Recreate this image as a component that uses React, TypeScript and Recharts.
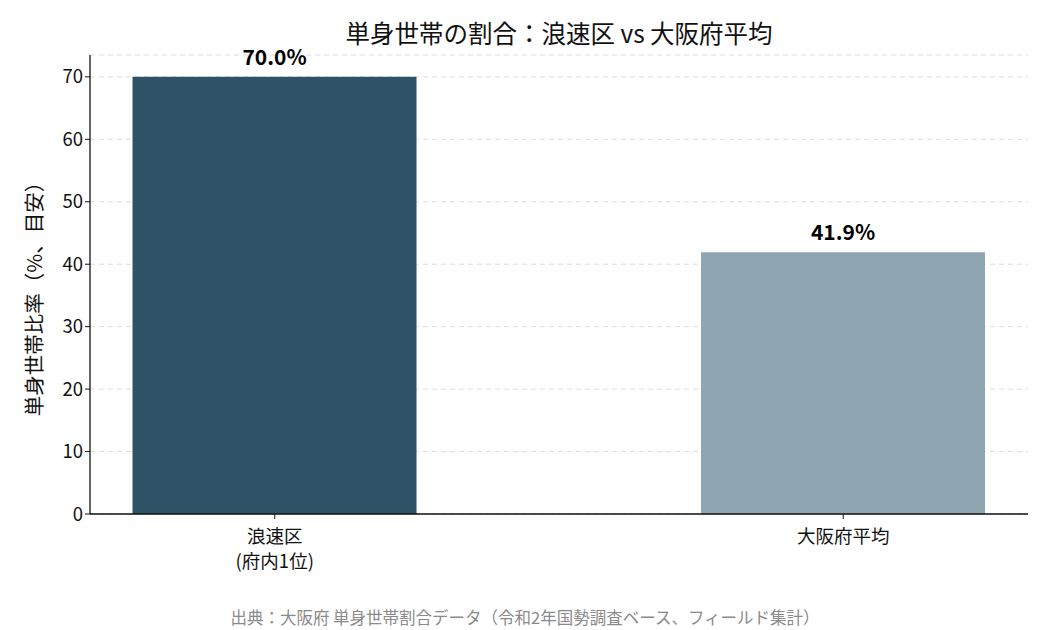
import { Bar, BarChart, CartesianGrid, Cell, LabelList, XAxis, YAxis } from 'recharts';

const CATEGORIES = ['浪速区\n(府内1位)', '大阪府平均'];
const SHARES = [70.0, 41.9];
const BAR_COLORS = ['#2e5366', '#8fa5b2'];
const Y_TICKS = [0, 10, 20, 30, 40, 50, 60, 70];

const FONT = '"Noto Sans CJK JP", "Noto Sans", sans-serif';

const data = CATEGORIES.map((name, i) => ({ x: i, name, value: SHARES[i] }));

const CategoryTick = (props: any) => {
  const { x, y, payload } = props;
  const lines = String(CATEGORIES[payload.value] ?? '').split('\n');
  return (
    <text x={x} y={y + 22} textAnchor="middle" fontSize={18.5} fill="#111" fontFamily={FONT}>
      {lines.map((line, i) => (
        <tspan key={i} x={x} dy={i === 0 ? 0 : 25}>
          {line}
        </tspan>
      ))}
    </text>
  );
};

const App = () => {
  return (
    <div
      style={{
        position: 'absolute',
        left: 0,
        top: 0,
        width: 1050,
        height: 630,
        background: '#fff',
        fontFamily: FONT,
      }}
    >
      <div
        style={{
          position: 'absolute',
          top: 15,
          left: 90,
          width: 938,
          textAlign: 'center',
          fontSize: 24.5,
          color: '#111',
        }}
      >
        単身世帯の割合：浪速区 vs 大阪府平均
      </div>
      <div
        style={{
          position: 'absolute',
          left: 33,
          top: 294,
          transform: 'translate(-50%, -50%) rotate(-90deg)',
          whiteSpace: 'nowrap',
          fontSize: 20.5,
          color: '#111',
        }}
      >
        単身世帯比率（%、目安）
      </div>
      <BarChart
        width={1050}
        height={630}
        data={data}
        margin={{ top: 55, right: 22, bottom: 86, left: 30 }}
      >
        <CartesianGrid horizontal vertical={false} stroke="#dcdcdc" strokeDasharray="5 4" />
        <XAxis
          type="number"
          dataKey="x"
          domain={[-0.325, 1.325]}
          ticks={[0, 1]}
          tick={<CategoryTick />}
          tickLine={{ stroke: '#111' }}
          axisLine={{ stroke: '#111', strokeWidth: 1.3 }}
          tickSize={5}
          height={30}
          interval={0}
        />
        <YAxis
          width={60}
          domain={[0, 73.5]}
          ticks={Y_TICKS}
          tick={{ fontSize: 18.5, fill: '#111', fontFamily: FONT }}
          tickLine={{ stroke: '#111' }}
          axisLine={{ stroke: '#111', strokeWidth: 1.3 }}
          tickSize={5}
          allowDataOverflow
        />
        <Bar dataKey="value" barSize={284} isAnimationActive={false}>
          {data.map((_, i) => (
            <Cell key={i} fill={BAR_COLORS[i]} />
          ))}
          <LabelList
            dataKey="value"
            position="top"
            offset={12}
            formatter={(v: any) => `${Number(v).toFixed(1)}%`}
            style={{ fontSize: 21, fontWeight: 700, fill: '#000', fontFamily: FONT }}
          />
        </Bar>
      </BarChart>
      <div
        style={{
          position: 'absolute',
          top: 605,
          left: 0,
          width: 1050,
          textAlign: 'center',
          fontSize: 16.5,
          color: '#8a8a8a',
        }}
      >
        出典：大阪府 単身世帯割合データ（令和2年国勢調査ベース、フィールド集計）
      </div>
    </div>
  );
};

export default App;
